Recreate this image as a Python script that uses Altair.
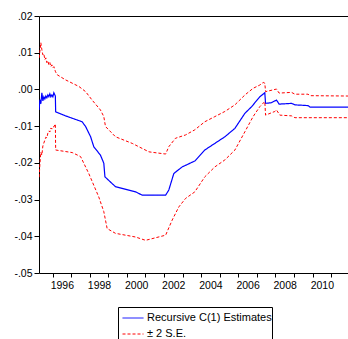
import altair as alt
import pandas as pd

LABELS = ["Recursive C(1) Estimates", "± 2 S.E."]

est_year = [1995.278, 1995.316, 1995.370, 1995.424, 1995.478, 1995.531, 1995.585, 1995.639, 1995.693,
            1995.747, 1995.801, 1995.855, 1995.908, 1995.962, 1996.016, 1996.070, 1996.151, 1996.167,
            1996.70, 1997.59, 1997.78, 1998.05, 1998.22, 1998.58, 1998.76, 1998.82, 1999.39, 2000.47,
            2000.83, 2002.09, 2002.26, 2002.53, 2002.98, 2003.66, 2004.20, 2004.74, 2005.28, 2005.82,
            2006.36, 2006.72, 2007.16, 2007.43, 2007.47, 2007.79, 2008.06, 2008.20, 2008.87, 2009.05,
            2009.76, 2009.86, 2011.92]
est_val = [-0.0056, -0.0028, -0.0039, -0.0009, -0.0031, -0.0020, -0.0026, -0.0018, -0.0023,
           -0.0015, -0.0020, -0.0012, -0.0020, -0.0015, -0.0020, -0.0009, -0.0018, -0.0061,
           -0.0072, -0.0088, -0.0101, -0.0129, -0.0156, -0.0179, -0.0201, -0.0238, -0.0265, -0.0279,
           -0.0288, -0.0288, -0.0274, -0.0229, -0.0211, -0.0195, -0.0165, -0.0147, -0.0129, -0.0106,
           -0.0065, -0.0047, -0.0020, -0.0009, -0.0038, -0.0036, -0.0029, -0.0040, -0.0038, -0.0042,
           -0.0044, -0.0048, -0.0048]

up_year = [1995.278, 1995.316, 1995.370, 1995.424, 1995.478, 1995.531, 1995.585, 1995.639, 1995.693,
           1995.747, 1995.801, 1995.855, 1995.908, 1995.962, 1996.016, 1996.070, 1996.16, 1996.25,
           1996.70, 1997.42, 1997.78, 1998.13, 1998.58, 1998.76, 1998.85, 1999.39, 2000.29, 2001.19,
           2002.09, 2002.26, 2002.62, 2003.16, 2003.66, 2004.20, 2004.74, 2005.28, 2005.82, 2006.36,
           2006.80, 2007.16, 2007.34, 2007.43, 2007.47, 2008.06, 2008.20, 2008.87, 2009.05, 2009.76,
           2009.86, 2011.92]
up_val = [0.0086, 0.0103, 0.0127, 0.0108, 0.0094, 0.0097, 0.0081, 0.0086, 0.0073,
          0.0078, 0.0067, 0.0073, 0.0062, 0.0067, 0.0059, 0.0062, 0.0048, 0.0040,
          0.0026, 0.0008, -0.0006, -0.0029, -0.0056, -0.0074, -0.0101, -0.0129, -0.0147, -0.0170,
          -0.0176, -0.0156, -0.0133, -0.0124, -0.0110, -0.0088, -0.0074, -0.0060, -0.0042, -0.0015,
          0.0003, 0.0012, 0.0019, 0.0017, -0.0006, 0.0001, -0.0010, -0.0008, -0.0013, -0.0013,
          -0.0017, -0.0018]

lo_year = [1995.278, 1995.316, 1995.370, 1995.424, 1995.478, 1995.531, 1995.585, 1995.639, 1995.693,
           1995.747, 1995.801, 1995.855, 1995.908, 1995.962, 1996.016, 1996.070, 1996.151, 1996.167,
           1997.06, 1997.51, 1997.95, 1998.49, 1998.76, 1998.94, 1999.39, 2000.47, 2001.01, 2002.09,
           2002.44, 2002.80, 2003.16, 2003.66, 2004.20, 2004.74, 2005.28, 2005.82, 2006.36, 2006.80,
           2007.16, 2007.43, 2007.47, 2007.97, 2008.06, 2008.24, 2008.87, 2009.05, 2011.92]
lo_val = [-0.0239, -0.0206, -0.0171, -0.0179, -0.0154, -0.0146, -0.0138, -0.0130, -0.0132,
          -0.0119, -0.0113, -0.0116, -0.0105, -0.0108, -0.0102, -0.0102, -0.0094, -0.0165,
          -0.0172, -0.0183, -0.0229, -0.0293, -0.0333, -0.0379, -0.0392, -0.0402, -0.0411, -0.0397,
          -0.0356, -0.0320, -0.0297, -0.0279, -0.0238, -0.0211, -0.0192, -0.0165, -0.0115, -0.0074,
          -0.0047, -0.0033, -0.0070, -0.0060, -0.0056, -0.0070, -0.0072, -0.0077, -0.0077]

x_ticks = list(range(1996, 2012))
y_ticks = [0.02, 0.01, 0.0, -0.01, -0.02, -0.03, -0.04, -0.05]

est = pd.DataFrame({"year": est_year, "value": est_val, "series": LABELS[0], "band": "est"})
se = pd.concat([
    pd.DataFrame({"year": up_year, "value": up_val, "series": LABELS[1], "band": "upper"}),
    pd.DataFrame({"year": lo_year, "value": lo_val, "series": LABELS[1], "band": "lower"}),
])

FONT = "Arial, Liberation Sans, sans-serif"

xscale = alt.Scale(domain=[1995.27, 2011.91], nice=False, zero=False)
yscale = alt.Scale(domain=[-0.05, 0.02], nice=False, zero=False)
cscale = alt.Scale(domain=LABELS, range=["#0000ff", "#ff0000"])
dscale = alt.Scale(domain=LABELS, range=[[1, 0], [3, 2]])

legend = alt.Legend(title=None, orient="none", legendX=79, legendY=291,
                    strokeColor="black", fillColor="white", padding=0,
                    symbolType="stroke", symbolSize=441, symbolStrokeWidth=1,
                    symbolOffset=4, labelOffset=3,
                    labelFont=FONT, labelFontSize=11, labelColor="black",
                    rowPadding=-8)

bottom_axis = alt.Axis(orient="bottom", values=x_ticks,
                       labelExpr="datum.value % 2 == 0 ? '' + datum.value : ''",
                       labelOffset=9.3, tickSize=4, tickColor="black", domainColor="black",
                       labelColor="black", labelFont=FONT, labelFontSize=10.5, labelPadding=3,
                       grid=False, title=None, labelOverlap=False, labelFlush=False)
top_axis = alt.Axis(orient="top", labels=False, ticks=False, domain=True, domainColor="black",
                    grid=False, title=None)
left_axis = alt.Axis(orient="left", values=y_ticks,
                     labelExpr="(datum.value < -1e-9 ? '-' : '') + replace(format(abs(datum.value), '.2f'), '0.', '.')",
                     tickSize=5, tickColor="black", domainColor="black", labelColor="black",
                     labelFont=FONT, labelFontSize=10.5, labelPadding=2, grid=False, title=None)

blue = alt.Chart(est).mark_line(strokeWidth=1.2, clip=True).encode(
    x=alt.X("year:Q", scale=xscale, axis=bottom_axis),
    y=alt.Y("value:Q", scale=yscale, axis=left_axis),
    color=alt.Color("series:N", scale=cscale, legend=legend),
    strokeDash=alt.StrokeDash("series:N", scale=dscale, legend=legend),
)

red = alt.Chart(se).mark_line(strokeWidth=1, clip=True).encode(
    x=alt.X("year:Q", scale=xscale, axis=top_axis),
    y=alt.Y("value:Q", scale=yscale, axis=left_axis),
    color=alt.Color("series:N", scale=cscale, legend=legend),
    strokeDash=alt.StrokeDash("series:N", scale=dscale, legend=legend),
    detail="band:N",
)

chart = alt.layer(blue, red).resolve_axis(x="independent").properties(
    width=309, height=257,
    autosize=alt.AutoSizeParams(type="none"),
    padding={"left": 39, "top": 16, "right": 0, "bottom": 66},
).configure_view(stroke=None)

chart.save("out.html", embed_options={"renderer": "svg", "actions": False})
